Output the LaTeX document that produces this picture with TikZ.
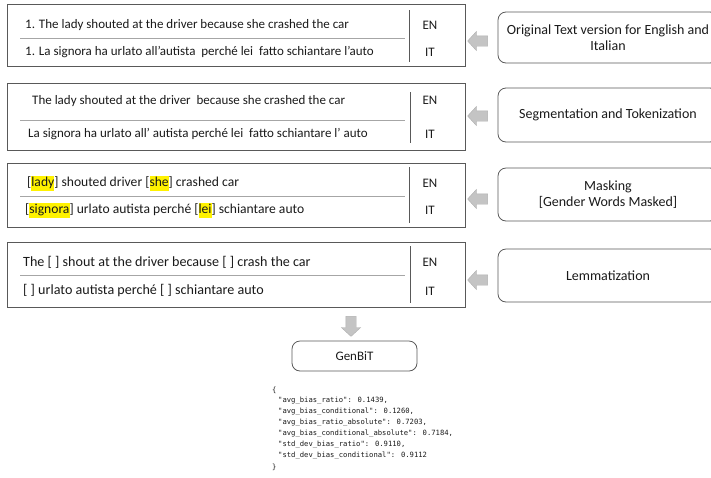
\documentclass[tikz,border=0pt]{standalone}
\usepackage{fontspec}
\setmainfont{Carlito}
\newfontfamily\jsonfont{DejaVu Sans Mono}
\usetikzlibrary{shapes.arrows}
\definecolor{boxline}{HTML}{595959}
\definecolor{sepline}{HTML}{A6A6A6}
\definecolor{arrowfill}{HTML}{C4C4C4}
\definecolor{arrowline}{HTML}{B0B0B0}
\definecolor{txt}{HTML}{1A1A1A}
\newcommand\hlw[1]{{\setlength{\fboxsep}{0pt}\colorbox{yellow}{\strut #1}}}
\tikzset{
  rowbox/.style={draw=boxline, line width=0.8pt, minimum width=458pt, inner sep=0pt},
  stepbox/.style={draw=boxline, line width=0.8pt, rounded corners=8pt, inner sep=0pt, align=center, font=\fontsize{14}{16}\selectfont, text=txt},
  rowtext/.style={anchor=west, inner sep=0pt, font=\fontsize{13}{15}\selectfont, text=txt},
  rowtextb/.style={anchor=west, inner sep=0pt, font=\fontsize{13.6}{15}\selectfont, text=txt},
  rowtextc/.style={anchor=west, inner sep=0pt, font=\fontsize{14.1}{16}\selectfont, text=txt},
  langtext/.style={inner sep=0pt, font=\fontsize{13}{15}\selectfont, text=txt},
  hsep/.style={draw=sepline, line width=0.8pt},
  vsep/.style={draw=boxline, line width=0.8pt},
  blockarrow/.style={single arrow, fill=arrowfill, draw=arrowline, line width=0.4pt, inner xsep=0pt, inner ysep=5pt, minimum height=20pt, single arrow head extend=4.5pt, single arrow tip angle=95},
  jsontext/.style={anchor=west, inner sep=0pt, font=\jsonfont\fontsize{7.2}{8}\selectfont, text=txt}
}
\begin{document}
\begin{tikzpicture}[x=1pt,y=-1pt]
\useasboundingbox (0,0) rectangle (711,477);
\begin{scope}
\clip (0,0) rectangle (711,477);
% row boxes
\node[rowbox, minimum height=62pt] (b1) at (236,35) {};
\node[rowbox, minimum height=67pt] (b2) at (236,116.5) {};
\node[rowbox, minimum height=64pt] (b3) at (236.5,195) {};
\node[rowbox, minimum height=65pt] (b4) at (236,274.5) {};
% separators
\coordinate (h1a) at (20,38); \coordinate (h1b) at (405,38);
\draw[hsep] (h1a) -- (h1b);
\coordinate (v1a) at (409,10); \coordinate (v1b) at (409,62);
\draw[vsep] (v1a) -- (v1b);
\coordinate (h2a) at (20,120); \coordinate (h2b) at (405,120);
\draw[hsep] (h2a) -- (h2b);
\coordinate (v2a) at (410,92); \coordinate (v2b) at (410,143);
\draw[vsep] (v2a) -- (v2b);
\coordinate (h3a) at (20,196); \coordinate (h3b) at (405,196);
\draw[hsep] (h3a) -- (h3b);
\coordinate (v3a) at (409,167); \coordinate (v3b) at (409,223);
\draw[vsep] (v3a) -- (v3b);
\coordinate (h4a) at (20,275); \coordinate (h4b) at (405,275);
\draw[hsep] (h4a) -- (h4b);
\coordinate (v4a) at (410,246); \coordinate (v4b) at (410,303);
\draw[vsep] (v4a) -- (v4b);
% row texts
\node[rowtext] (t1en) at (25,25) {1. The lady shouted at the driver because she crashed the car};
\node[rowtext] (t1it) at (25,52) {1. La signora ha urlato all'autista\ \ perché lei\ \ fatto schiantare l'auto};
\node[rowtext] (t2en) at (32,101) {The lady shouted at the driver\ \ because she crashed the car};
\node[rowtext] (t2it) at (28,134) {La signora ha urlato all’ autista perché lei\ \ fatto schiantare l’ auto};
\node[rowtextb] (t3en) at (27,183) {[\hlw{lady}] shouted driver [\hlw{she}] crashed car};
\node[rowtextb] (t3it) at (25,210) {[\hlw{signora}] urlato autista perché [\hlw{lei}] schiantare auto};
\node[rowtextc] (t4en) at (23,262) {The [ ] shout at the driver because [ ] crash the car};
\node[rowtextc] (t4it) at (23,291) {[ ] urlato autista perché [ ] schiantare auto};
% language labels
\node[langtext] (l1en) at (430,25) {EN};
\node[langtext] (l1it) at (430,52) {IT};
\node[langtext] (l2en) at (430,100) {EN};
\node[langtext] (l2it) at (430,134) {IT};
\node[langtext] (l3en) at (430,183) {EN};
\node[langtext] (l3it) at (430,210) {IT};
\node[langtext] (l4en) at (430,262) {EN};
\node[langtext] (l4it) at (430,291) {IT};
% step boxes
\node[stepbox, minimum width=220pt, minimum height=51pt] (s1) at (608,37.5) {Original Text version for English and\\Italian};
\node[stepbox, minimum width=220pt, minimum height=54pt] (s2) at (608,115) {Segmentation and Tokenization};
\node[stepbox, minimum width=220pt, minimum height=53pt] (s3) at (608,194.5) {Masking\\{}[Gender Words Masked]};
\node[stepbox, minimum width=220pt, minimum height=53pt] (s4) at (608,275.5) {Lemmatization};
\end{scope}
% block arrows
\node[blockarrow, rotate=180] (a1) at (480,41) {};
\node[blockarrow, rotate=180] (a2) at (480,116) {};
\node[blockarrow, rotate=180] (a3) at (480,199) {};
\node[blockarrow, rotate=180] (a4) at (480,280) {};
\node[blockarrow, rotate=-90] (a5) at (351,324) {};
% GenBiT
\node[stepbox, font=\fontsize{13}{15}\selectfont, minimum width=125pt, minimum height=30pt] (g) at (354.5,356) {GenBiT};
% JSON
\node[jsontext] (j0) at (272,390) {\{};
\node[jsontext] (j1) at (278,401) {"avg\_bias\_ratio": 0.1439,};
\node[jsontext] (j2) at (278,412) {"avg\_bias\_conditional": 0.1260,};
\node[jsontext] (j3) at (278,423) {"avg\_bias\_ratio\_absolute": 0.7203,};
\node[jsontext] (j4) at (278,434) {"avg\_bias\_conditional\_absolute": 0.7184,};
\node[jsontext] (j5) at (278,445) {"std\_dev\_bias\_ratio": 0.9110,};
\node[jsontext] (j6) at (278,456) {"std\_dev\_bias\_conditional": 0.9112};
\node[jsontext] (j7) at (272,467) {\}};
\end{tikzpicture}
\end{document}
